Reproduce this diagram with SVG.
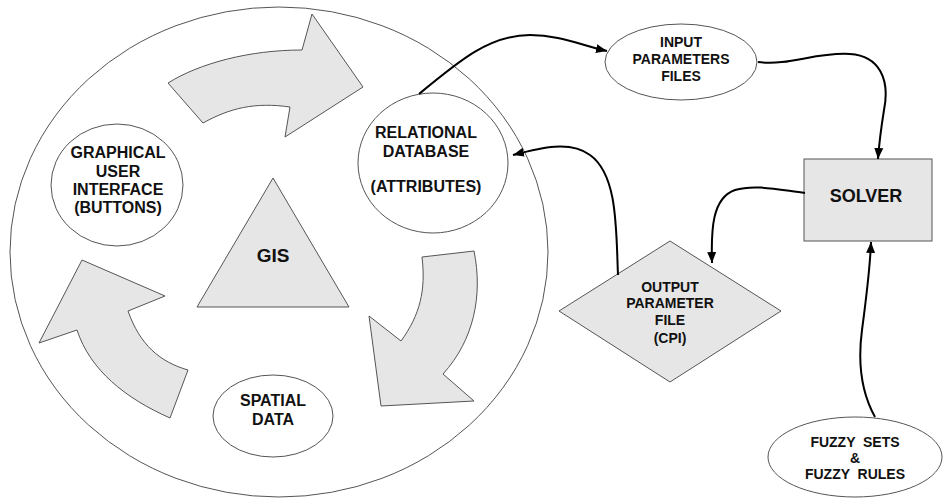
<svg xmlns="http://www.w3.org/2000/svg" width="945" height="498" viewBox="0 0 945 498">
<defs>
<style>
.ol{fill:#fff;stroke:#555;stroke-width:1}
.sh{fill:#e6e6e6;stroke:#555;stroke-width:1}
.t{font-family:"Liberation Sans",Arial,sans-serif;font-weight:bold;fill:#111;text-anchor:middle}
.c{fill:none;stroke:#000;stroke-width:2}
</style>
<marker id="ah" markerUnits="userSpaceOnUse" markerWidth="12" markerHeight="10" refX="11" refY="5" orient="auto">
<path d="M0,0.5 L11,5 L0,9.5 z" fill="#000"/>
</marker>
</defs>
<rect width="945" height="498" fill="#fff"/>
<g id="gis-circle">
<ellipse class="ol" cx="279" cy="252" rx="269" ry="245"/>
</g>
<g id="arrow-top">
<path class="sh" d="M168,83 C200,63 250,50 302,50 L312,14 L363,87 L285,137 L290,107 C255,102 230,108 203,123 Z"/>
</g>
<g id="arrow-right">
<path class="sh" d="M422,257 L474,251 C483,295 474,340 443,374 L474,401 L381,406 L369,316 L401,341 C420,315 426,290 422,257 Z"/>
</g>
<g id="arrow-left">
<path class="sh" d="M170,418 C125,398 90,370 77,330 L39,343 L82,260 L165,296 L128,311 C140,345 160,362 188,370 Z"/>
</g>
<g id="gui">
<ellipse class="ol" cx="117" cy="185" rx="66" ry="61"/>
<text class="t" font-size="16" x="118" y="158">GRAPHICAL</text>
<text class="t" font-size="16" x="118" y="177">USER</text>
<text class="t" font-size="16" x="118" y="195">INTERFACE</text>
<text class="t" font-size="16" x="118" y="213">(BUTTONS)</text>
</g>
<g id="rdb">
<ellipse class="ol" cx="433" cy="163" rx="75" ry="70"/>
<text class="t" font-size="16" x="426" y="138">RELATIONAL</text>
<text class="t" font-size="16" x="426" y="157">DATABASE</text>
<text class="t" font-size="16" x="426" y="192">(ATTRIBUTES)</text>
</g>
<g id="gis">
<polygon class="sh" points="273,178 349,307 197,307"/>
<text class="t" font-size="19" x="273" y="262">GIS</text>
</g>
<g id="spatial">
<ellipse class="ol" cx="273" cy="416" rx="60" ry="41"/>
<text class="t" font-size="16" x="273" y="406">SPATIAL</text>
<text class="t" font-size="16" x="273" y="425">DATA</text>
</g>
<g id="input">
<ellipse class="ol" cx="681" cy="62" rx="76" ry="38"/>
<text class="t" font-size="14" x="681" y="47">INPUT</text>
<text class="t" font-size="14" x="681" y="64">PARAMETERS</text>
<text class="t" font-size="14" x="681" y="81">FILES</text>
</g>
<g id="solver">
<rect class="sh" x="804" y="159" width="128" height="82"/>
<text class="t" font-size="18" x="866" y="202">SOLVER</text>
</g>
<g id="output">
<polygon class="sh" points="670,241 781,311 670,382 559,311"/>
<text class="t" font-size="14" x="670" y="292">OUTPUT</text>
<text class="t" font-size="14" x="670" y="308">PARAMETER</text>
<text class="t" font-size="14" x="670" y="325">FILE</text>
<text class="t" font-size="14" x="670" y="343">(CPI)</text>
</g>
<g id="fuzzy">
<ellipse class="ol" cx="855" cy="457" rx="87" ry="40"/>
<text class="t" font-size="14" x="855" y="447" xml:space="preserve">FUZZY  SETS</text>
<text class="t" font-size="14" x="855" y="463">&amp;</text>
<text class="t" font-size="14" x="855" y="479" xml:space="preserve">FUZZY  RULES</text>
</g>
<g id="connectors">
<path class="c" marker-end="url(#ah)" d="M419,94 C460,60 490,35 530,35 C560,35 580,45 607,51"/>
<path class="c" marker-end="url(#ah)" d="M758,62 C790,66 815,52 850,54 C880,56 890,80 884,110 C880,135 879,145 878,159"/>
<path class="c" marker-end="url(#ah)" d="M618,275 C616,230 618,175 590,155 C570,140 540,148 513,155"/>
<path class="c" marker-end="url(#ah)" d="M805,193 C780,190 755,184 735,190 C712,198 711,230 712,263"/>
<path class="c" marker-end="url(#ah)" d="M875,417 C860,390 858,360 862,330 C866,300 870,270 871,242"/>
</g>
</svg>
